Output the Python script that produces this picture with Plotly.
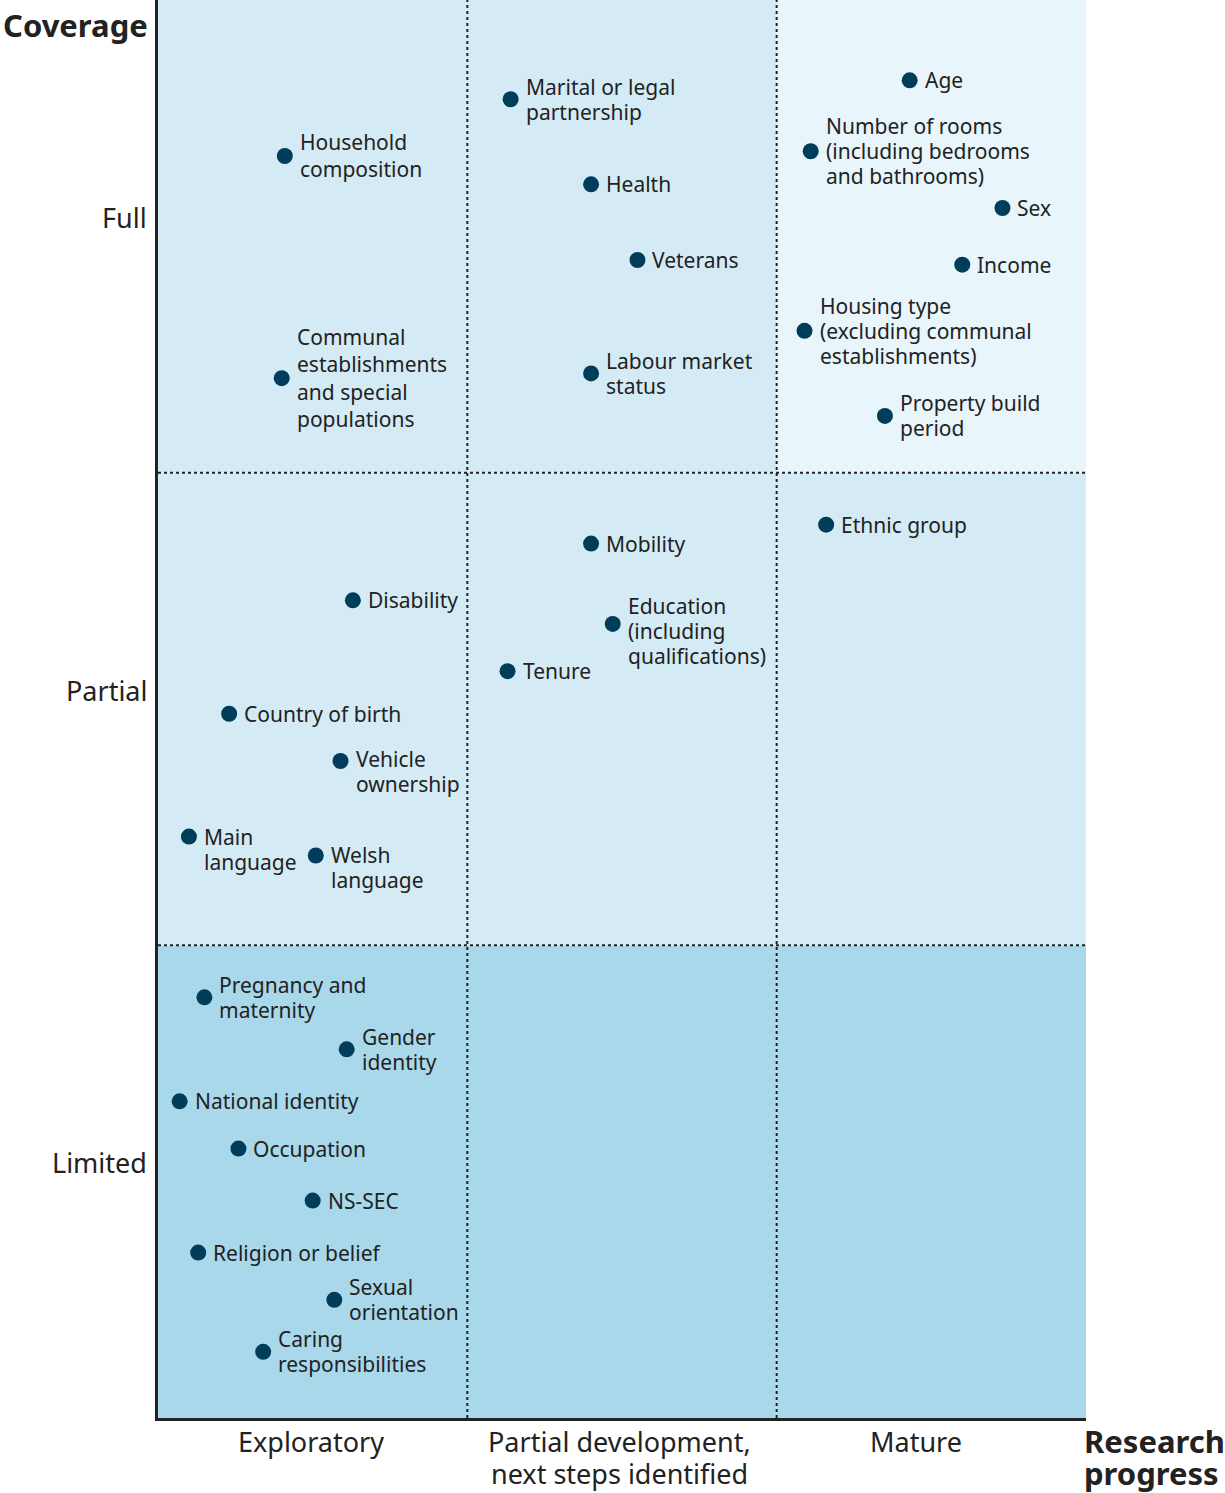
import plotly.graph_objects as go

# ---- data ----
names = [
    "Household<br>composition",
    "Communal<br>establishments<br>and special<br>populations",
    "Marital or legal<br>partnership",
    "Health",
    "Veterans",
    "Labour market<br>status",
    "Age",
    "Number of rooms<br>(including bedrooms<br>and bathrooms)",
    "Sex",
    "Income",
    "Housing type<br>(excluding communal<br>establishments)",
    "Property build<br>period",
    "Ethnic group",
    "Mobility",
    "Disability",
    "Education<br>(including<br>qualifications)",
    "Tenure",
    "Country of birth",
    "Vehicle<br>ownership",
    "Main<br>language",
    "Welsh<br>language",
    "Pregnancy and<br>maternity",
    "Gender<br>identity",
    "National identity",
    "Occupation",
    "NS-SEC",
    "Religion or belief",
    "Sexual<br>orientation",
    "Caring<br>responsibilities",
]
research_progress = [
    0.41, 0.40, 1.14, 1.40, 1.55, 1.40, 2.43, 2.11, 2.73, 2.60, 2.09, 2.35,
    2.16, 1.40, 0.63, 1.47, 1.13, 0.23, 0.59, 0.10, 0.51, 0.15, 0.61, 0.07,
    0.26, 0.50, 0.13, 0.57, 0.34,
]
coverage = [
    2.67, 2.20, 2.79, 2.61, 2.45, 2.21, 2.83, 2.68, 2.56, 2.44, 2.30, 2.12,
    1.89, 1.85, 1.73, 1.68, 1.58, 1.49, 1.39, 1.23, 1.19, 0.89, 0.78, 0.67,
    0.57, 0.46, 0.35, 0.25, 0.14,
]
coverage_levels = ["Limited", "Partial", "Full"]
progress_levels = ["Exploratory", "Partial development,<br>next steps identified", "Mature"]
y_title = "Coverage"
x_title = "Research<br>progress"

# ---- styles ----
FONT = "Noto Sans"
TEXT = "#222222"
DOT = "#003d5b"
label_yshift = {"Vehicle<br>ownership": -11, "Main<br>language": -13,
                "Welsh<br>language": -11.5, "Education<br>(including<br>qualifications)": -7.5}
label_spacing = {"Household<br>composition": 27,
                 "Communal<br>establishments<br>and special<br>populations": 27.5}
cell_colors = [
    ["#a8d8ea", "#a8d8ea", "#a8d8ea"],  # Limited row
    ["#d4ebf5", "#d4ebf5", "#d4ebf5"],  # Partial row
    ["#d4ebf5", "#d4ebf5", "#e8f5fa"],  # Full row
]

fig = go.Figure()
fig.add_trace(go.Scatter(
    x=research_progress, y=coverage, mode="markers",
    marker=dict(size=16, color=DOT), hoverinfo="text", text=names,
    showlegend=False,
))

shapes = []
for r in range(3):
    for c in range(3):
        shapes.append(dict(type="rect", xref="x", yref="y", x0=c, x1=c + 1, y0=r, y1=r + 1,
                           fillcolor=cell_colors[r][c], line=dict(width=0), layer="below"))
for v in (1, 2):
    shapes.append(dict(type="line", xref="x", yref="y", x0=v, x1=v, y0=0, y1=3,
                       line=dict(color="#222", width=2, dash="3px,3px"), layer="below"))
    shapes.append(dict(type="line", xref="x", yref="y", x0=0, x1=3, y0=v, y1=v,
                       line=dict(color="#222", width=2, dash="3px,3px"), layer="below"))

annotations = []


def add_lines(text, spacing, base_shift, **kw):
    lines = text.split("<br>")
    n = len(lines)
    for i, line in enumerate(lines):
        a = dict(kw)
        a["text"] = line
        a["yshift"] = base_shift + ((n - 1) / 2 - i) * spacing
        annotations.append(a)


for n, xv, yv in zip(names, research_progress, coverage):
    add_lines(n, label_spacing.get(n, 25), label_yshift.get(n, 0),
              x=xv, y=yv, xref="x", yref="y", showarrow=False,
              xanchor="left", yanchor="middle", xshift=13,
              font=dict(family=FONT, size=21, color=TEXT))
for i, lab in enumerate(coverage_levels):
    annotations.append(dict(x=0, y=i + 0.5, xref="paper", yref="y", text=lab, showarrow=False,
                            xanchor="right", yanchor="middle", xshift=-9, yshift=19,
                            font=dict(family=FONT, size=27, color=TEXT)))
xshifts = [-2, -3, -15]
for i, lab in enumerate(progress_levels):
    lines = lab.split("<br>")
    for j, line in enumerate(lines):
        annotations.append(dict(x=i + 0.5, y=0, xref="x", yref="paper", text=line,
                                showarrow=False, xanchor="center", yanchor="middle",
                                yshift=-23 - 32 * j, xshift=xshifts[i],
                                font=dict(family=FONT, size=27, color=TEXT)))
annotations.append(dict(x=0, y=1, xref="paper", yref="paper", text="<b>" + y_title + "</b>",
                        showarrow=False, xanchor="right", yanchor="middle", xshift=-8, yshift=-25,
                        font=dict(family=FONT, size=31, color=TEXT)))
for j, line in enumerate(x_title.split("<br>")):
    annotations.append(dict(x=1, y=0, xref="paper", yref="paper", text="<b>" + line + "</b>",
                            showarrow=False, xanchor="left", yanchor="middle",
                            xshift=-4, yshift=-23 - 32 * j,
                            font=dict(family=FONT, size=31, color=TEXT)))

fig.update_layout(
    width=1225, height=1493,
    margin=dict(l=158, r=139, t=0, b=75),
    paper_bgcolor="white", plot_bgcolor="white",
    xaxis=dict(range=[0, 3], showgrid=False, zeroline=False, showticklabels=False, ticks="",
               showline=True, linecolor="#222", linewidth=3),
    yaxis=dict(range=[0, 3], showgrid=False, zeroline=False, showticklabels=False, ticks="",
               showline=True, linecolor="#222", linewidth=3),
    shapes=shapes, annotations=annotations,
    font=dict(family=FONT, color=TEXT),
)
fig.write_html("out.html", config={"displayModeBar": False},
               post_script="document.body.style.margin='0';document.body.style.overflow='hidden';")
